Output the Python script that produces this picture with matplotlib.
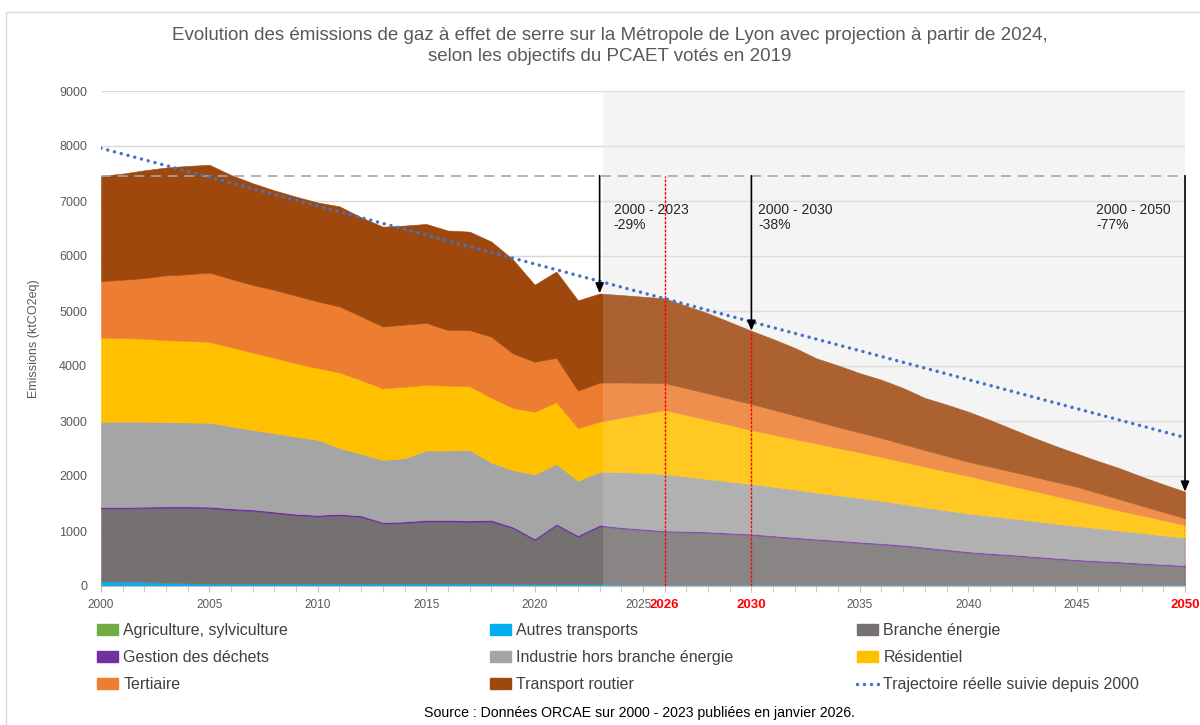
"""
Emissions de GES - Métropole de Lyon, historique 2000-2023 et projection PCAET
"""
import matplotlib
matplotlib.use('Agg')
import matplotlib.pyplot as plt
import matplotlib.transforms as mtransforms
from matplotlib.patches import Rectangle, Patch
from matplotlib.lines import Line2D

plt.rcParams['font.family'] = ['Liberation Sans', 'DejaVu Sans']

# ---- données (ktCO2eq), 2000-2023 relevé ORCAE puis projection 2024-2050
years = list(range(2000, 2051))

agriculture = [8] * 24 + [5] * 27
autres_transports = [70, 70, 65, 50, 40, 35, 35, 35, 35, 35, 35, 35, 35, 35, 35, 35, 35, 35, 35, 30,
                     25, 25, 25, 25] + [20] * 27
branche_energie = [1330, 1330, 1340, 1360, 1370, 1370, 1340, 1320, 1280, 1240, 1220, 1240, 1210, 1090,
                   1100, 1130, 1130, 1120, 1130, 1010, 800, 1070, 860, 1050,
                   1020, 990, 960, 950, 940, 920, 900, 870, 840, 810, 785, 755, 730, 700, 660, 620,
                   580, 550, 525, 495, 465, 435, 415, 395, 370, 350, 330]
gestion_dechets = [30] * 24 + [25] * 27
industrie = [1550, 1550, 1545, 1530, 1525, 1525, 1490, 1445, 1425, 1400, 1365, 1195, 1120, 1130,
             1150, 1260, 1260, 1280, 1040, 1030, 1165, 1085, 990, 965,
             1000, 1015, 1025, 990, 955, 930, 905, 885, 865, 840, 815, 795, 770, 740, 720, 705,
             690, 675, 655, 640, 620, 605, 585, 560, 545, 520, 500]
residentiel = [1530, 1520, 1510, 1490, 1485, 1470, 1440, 1405, 1370, 1335, 1305, 1375, 1340, 1300,
               1300, 1195, 1180, 1160, 1180, 1130, 1140, 1125, 960, 910,
               990, 1075, 1165, 1120, 1075, 1030, 980, 950, 915, 890, 860, 830, 795, 770, 740, 710,
               680, 635, 590, 545, 505, 460, 410, 365, 320, 275, 230]
tertiaire = [1025, 1060, 1100, 1180, 1210, 1260, 1240, 1230, 1235, 1230, 1210, 1200, 1160, 1125,
             1130, 1125, 1010, 1020, 1110, 990, 910, 805, 680, 710,
             640, 565, 490, 485, 480, 475, 475, 450, 430, 405, 380, 360, 345, 320, 300, 280,
             260, 260, 260, 260, 255, 255, 230, 205, 175, 150, 120]
transport_routier = [1915, 1930, 1960, 1960, 1970, 1960, 1890, 1850, 1810, 1800, 1800, 1820, 1800, 1815,
                     1800, 1800, 1810, 1790, 1730, 1710, 1400, 1570, 1640, 1620,
                     1590, 1565, 1540, 1500, 1460, 1395, 1330, 1285, 1230, 1145, 1120, 1080, 1060, 1020,
                     950, 935, 910, 850, 780, 710, 655, 605, 580, 565, 530, 505, 485]

secteurs = ['Agriculture, sylviculture', 'Autres transports', 'Branche énergie',
            'Gestion des déchets', 'Industrie hors branche énergie', 'Résidentiel',
            'Tertiaire', 'Transport routier']
couleurs = ['#70AD47', '#00B0F0', '#767171', '#7030A0', '#A5A5A5', '#FFC000', '#ED7D31', '#9E480E']

# trajectoire réelle (droite de tendance) et repères
trend_years = [2000, 2050]
trend_values = [7960, 2700]
ref_2000 = 7460
jalons = [2023, 2030, 2050]
jalons_textes = ['2000 - 2023\n-29%', '2000 - 2030\n-38%', '2000 - 2050\n-77%']
total_jalons = [5320, 4640, 1715]

gris_txt = '#595959'
style_traj = (0, (0.01, 2.0))

fig = plt.figure(figsize=(12, 7.25), dpi=100)
ax = fig.add_axes([101 / 1200, 1 - 586 / 725, 1084 / 1200, 495 / 725])

# cadre de la zone graphique
fig.patches.append(Rectangle((6 / 1200, -0.05), 1.0, 1 - 12 / 725 + 0.05, transform=fig.transFigure,
                             facecolor='none', edgecolor='#D9D9D9', lw=1))

# zone de projection (fond gris)
ax.axvspan(2023.15, 2050, color='#F3F3F3', lw=0, zorder=0.2)

stacks = ax.stackplot(years, agriculture, autres_transports, branche_energie, gestion_dechets,
                      industrie, residentiel, tertiaire, transport_routier, colors=couleurs, zorder=1)
for poly, c in zip(stacks, couleurs):
    poly.set_edgecolor(c)
    poly.set_linewidth(0.4)

# voile clair sur la projection
ax.axvspan(2023.15, 2050, color='white', alpha=0.14, lw=0, zorder=2)

# niveau 2000
ax.plot([2000, 2050], [ref_2000, ref_2000], color='#A6A6A6', lw=1.2, ls=(0, (6, 4)), zorder=3)

# trajectoire
ax.plot(trend_years, trend_values, color='#4472C4', lw=2.5, ls=style_traj,
        dash_capstyle='round', zorder=4)

# lignes rouges des échéances
ax.plot([2026, 2026], [0, ref_2000], color='red', lw=1, ls=(0, (2, 1)), zorder=3)
ax.plot([2030, 2030], [0, total_jalons[1]], color='red', lw=1, ls=(0, (2, 1)), zorder=3)
ax.plot([2050, 2050], [0, total_jalons[2]], color='red', lw=1, ls=(0, (2, 1)), zorder=3)

# flèches et taux de réduction
for an, val in zip(jalons, total_jalons):
    ax.annotate('', xy=(an, val), xytext=(an, ref_2000),
                arrowprops=dict(arrowstyle='-|>,head_width=0.25,head_length=0.6',
                                color='black', lw=1.2, shrinkA=0, shrinkB=0), zorder=5)
for x, txt in zip([2023.65, 2030.3, 2045.9], jalons_textes):
    ax.text(x, 6960, txt, fontsize=10, color='#262626', va='top', ha='left', linespacing=1.1,
            zorder=5)

# axes
ax.set_xlim(2000, 2050)
ax.set_ylim(0, 9000)
ax.set_yticks(range(0, 9001, 1000))
ax.grid(axis='y', color='#D9D9D9', lw=1)
ax.set_axisbelow(True)
for s in ['top', 'right', 'left']:
    ax.spines[s].set_visible(False)
ax.spines['bottom'].set_color('#BFBFBF')
ax.tick_params(axis='y', length=0, pad=10, labelsize=9, labelcolor=gris_txt)

xt = [2000, 2005, 2010, 2015, 2020, 2025, 2026, 2030, 2035, 2040, 2045, 2050]
ax.set_xticks(xt)
ax.set_xticks(years, minor=True)
ax.tick_params(axis='x', which='both', length=4, color='#BFBFBF', pad=5, labelsize=8.5,
               labelcolor=gris_txt)
for lab in ax.get_xticklabels():
    if lab.get_text() in ('2026', '2030', '2050'):
        lab.set_color('red')
        lab.set_fontsize(9.5)
        lab.set_fontweight('bold')
    if lab.get_text() == '2025':
        # "2025" collé juste à gauche de "2026"
        lab.set_transform(lab.get_transform()
                          + mtransforms.ScaledTranslation(-3 / 72, 0, fig.dpi_scale_trans))

ax.set_ylabel('Emissions (ktCO2eq)', fontsize=9, color=gris_txt, labelpad=14)

# titre
fig.text(0.508, 1 - 46 / 725, "Evolution des émissions de gaz à effet de serre sur la Métropole de Lyon "
         "avec projection à partir de 2024,\nselon les objectifs du PCAET votés en 2019",
         ha='center', va='center', fontsize=13.5, color=gris_txt, linespacing=1.25)

# légende sur 3 colonnes
handles = [Patch(facecolor=c, edgecolor=c) for c in couleurs]
handles.append(Line2D([], [], color='#4472C4', lw=2.5, ls=style_traj, dash_capstyle='round'))
labels = secteurs + ['Trajectoire réelle suivie depuis 2000']
colonnes = [[0, 3, 6], [1, 4, 7], [2, 5, 8]]
for xpos, idx in zip([97 / 1200, 490 / 1200, 857 / 1200], colonnes):
    fig.legend([handles[i] for i in idx], [labels[i] for i in idx], loc='upper left',
               bbox_to_anchor=(xpos, 1 - 623 / 725), frameon=False, fontsize=11.5,
               borderpad=0, borderaxespad=0, handlelength=1.3, handleheight=0.65,
               handletextpad=0.35, labelspacing=0.76, labelcolor='#404040')

fig.text(640 / 1200, 1 - 713 / 725, 'Source : Données ORCAE sur 2000 - 2023 publiées en janvier 2026.',
         ha='center', va='center', fontsize=10.2, color='black')

plt.savefig('out.png', dpi=100)
